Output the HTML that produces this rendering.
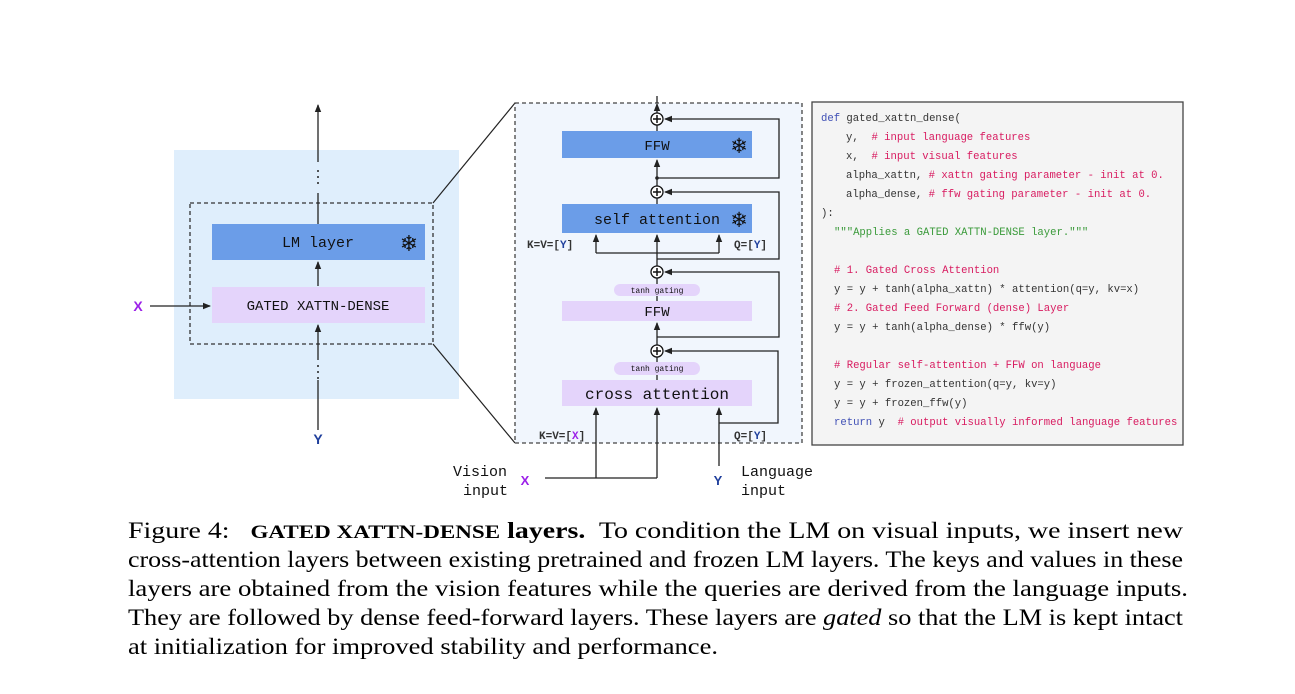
<!DOCTYPE html>
<html><head><meta charset="utf-8"><style>
html,body{margin:0;padding:0;background:#fff;}
svg{display:block;}
.m{font-family:"Liberation Mono","DejaVu Sans Mono",monospace;}
.s{font-family:"Liberation Serif",serif;}
text{white-space:pre;}
</style></head><body>
<svg width="1295" height="694" viewBox="0 0 1295 694" xmlns="http://www.w3.org/2000/svg" xml:space="preserve">
<defs>
<marker id="a" markerWidth="8" markerHeight="8" refX="7" refY="4" orient="auto" markerUnits="userSpaceOnUse">
<path d="M0,0.8 L8,4 L0,7.2 z" fill="#222"/></marker>
</defs>
<rect x="174" y="150" width="285" height="249" fill="#dfeefc"/>
<rect x="190" y="203" width="243" height="141" fill="none" stroke="#333" stroke-width="1.3" stroke-dasharray="4,3"/>
<line x1="318" y1="430" x2="318" y2="380" stroke="#222" stroke-width="1.3"/>
<line x1="318" y1="360" x2="318" y2="325" stroke="#222" stroke-width="1.3" marker-end="url(#a)"/>
<circle cx="318" cy="366" r="1" fill="#222"/><circle cx="318" cy="372" r="1" fill="#222"/><circle cx="318" cy="378" r="1" fill="#222"/>
<line x1="318" y1="286" x2="318" y2="262" stroke="#222" stroke-width="1.3" marker-end="url(#a)"/>
<line x1="318" y1="224" x2="318" y2="193" stroke="#222" stroke-width="1.3"/>
<circle cx="318" cy="171" r="1" fill="#222"/><circle cx="318" cy="177" r="1" fill="#222"/><circle cx="318" cy="183" r="1" fill="#222"/>
<line x1="318" y1="162" x2="318" y2="105" stroke="#222" stroke-width="1.3" marker-end="url(#a)"/>
<rect x="212" y="224" width="213" height="36" fill="#6b9de8"/>
<text x="318" y="247" class="m" font-size="15" text-anchor="middle" fill="#111">LM layer</text>
<text x="409" y="251" font-size="22" text-anchor="middle" fill="#111" font-family="DejaVu Sans">❄</text>
<rect x="212" y="287" width="213" height="36" fill="#e4d4fb"/>
<text x="318" y="310" class="m" font-size="14" text-anchor="middle" fill="#111">GATED XATTN-DENSE</text>
<text x="138" y="311" font-family="Liberation Sans" font-weight="bold" font-size="14" text-anchor="middle" fill="#9b1fe8">X</text>
<line x1="150" y1="306" x2="210" y2="306" stroke="#222" stroke-width="1.3" marker-end="url(#a)"/>
<text x="318" y="444" font-family="Liberation Sans" font-weight="bold" font-size="14" text-anchor="middle" fill="#1f3f9c">Y</text>
<line x1="433" y1="203" x2="515" y2="103" stroke="#222" stroke-width="1.2"/>
<line x1="433" y1="344" x2="515" y2="443" stroke="#222" stroke-width="1.2"/>
<rect x="515" y="103" width="287" height="340" fill="#f1f6fd" stroke="#444" stroke-width="1.3" stroke-dasharray="4,3"/>
<g stroke="#222" stroke-width="1.3" fill="none">
<line x1="657" y1="478" x2="657" y2="408" marker-end="url(#a)"/>
<line x1="657" y1="380" x2="657" y2="375"/>
<line x1="657" y1="362" x2="657" y2="357"/>
<line x1="657" y1="345" x2="657" y2="323" marker-end="url(#a)"/>
<line x1="657" y1="301" x2="657" y2="296"/>
<line x1="657" y1="284" x2="657" y2="278"/>
<line x1="657" y1="266" x2="657" y2="235" marker-end="url(#a)"/>
<line x1="657" y1="204" x2="657" y2="198"/>
<line x1="657" y1="186" x2="657" y2="160" marker-end="url(#a)"/>
<line x1="657" y1="131" x2="657" y2="125"/>
<line x1="657" y1="113" x2="657" y2="104" marker-end="url(#a)"/>
<line x1="657" y1="103" x2="657" y2="96"/>
<polyline points="657,178 779,178 779,119 665,119" marker-end="url(#a)"/>
<polyline points="657,259 779,259 779,192 665,192" marker-end="url(#a)"/>
<polyline points="657,337 779,337 779,272 665,272" marker-end="url(#a)"/>
<polyline points="719,423 778,423 778,351 665,351" marker-end="url(#a)"/>
<polyline points="596,253 596,235" marker-end="url(#a)"/>
<polyline points="719,253 719,235" marker-end="url(#a)"/>
<line x1="596" y1="253" x2="719" y2="253"/>
<line x1="545" y1="478" x2="657" y2="478"/>
<line x1="596" y1="478" x2="596" y2="408" marker-end="url(#a)"/>
<line x1="719" y1="466" x2="719" y2="408" marker-end="url(#a)"/>
</g>
<circle cx="657" cy="178" r="1.8" fill="#222"/>
<g fill="#fff" stroke="#111" stroke-width="1.3">
<circle cx="657" cy="119" r="6"/><circle cx="657" cy="192" r="6"/><circle cx="657" cy="272" r="6"/><circle cx="657" cy="351" r="6"/>
</g>
<g stroke="#111" stroke-width="1.5">
<path d="M653,119h8M657,115v8"/><path d="M653,192h8M657,188v8"/><path d="M653,272h8M657,268v8"/><path d="M653,351h8M657,347v8"/>
</g>
<rect x="562" y="131" width="190" height="27" fill="#6b9de8"/>
<text x="657" y="150" class="m" font-size="14" text-anchor="middle" fill="#111">FFW</text>
<text x="739" y="153" font-size="21" text-anchor="middle" fill="#111" font-family="DejaVu Sans">❄</text>
<rect x="562" y="204" width="190" height="29" fill="#6b9de8"/>
<text x="657" y="224" class="m" font-size="15" text-anchor="middle" fill="#111">self attention</text>
<text x="739" y="227" font-size="21" text-anchor="middle" fill="#111" font-family="DejaVu Sans">❄</text>
<rect x="614" y="284" width="86" height="12" rx="6" fill="#e4d4fb"/>
<text x="657" y="293" class="m" font-size="8" text-anchor="middle" fill="#111">tanh gating</text>
<rect x="562" y="301" width="190" height="20" fill="#e4d4fb"/>
<text x="657" y="316" class="m" font-size="14" text-anchor="middle" fill="#111">FFW</text>
<rect x="614" y="362" width="86" height="13" rx="6.5" fill="#e4d4fb"/>
<text x="657" y="371" class="m" font-size="8" text-anchor="middle" fill="#111">tanh gating</text>
<rect x="562" y="380" width="190" height="26" fill="#e4d4fb"/>
<text x="657" y="399" class="m" font-size="16" text-anchor="middle" fill="#111">cross attention</text>
<g font-family="Liberation Mono,monospace" font-weight="bold" font-size="11" fill="#333">
<text x="527" y="248">K=V=[<tspan fill="#1f3f9c">Y</tspan>]</text>
<text x="734" y="248">Q=[<tspan fill="#1f3f9c">Y</tspan>]</text>
<text x="539" y="439">K=V=[<tspan fill="#9b1fe8">X</tspan>]</text>
<text x="734" y="439">Q=[<tspan fill="#1f3f9c">Y</tspan>]</text>
</g>
<g class="m" font-size="15" fill="#111">
<text x="453" y="476">Vision</text><text x="463" y="495">input</text>
<text x="741" y="476">Language</text><text x="741" y="495">input</text>
</g>
<text x="525" y="485" font-family="Liberation Sans" font-weight="bold" font-size="13" text-anchor="middle" fill="#9b1fe8">X</text>
<text x="718" y="485" font-family="Liberation Sans" font-weight="bold" font-size="13" text-anchor="middle" fill="#1f3f9c">Y</text>
<rect x="812" y="102" width="371" height="343" fill="#f4f4f4" stroke="#444" stroke-width="1.3"/>
<g class="m" font-size="10.6" fill="#333">
<text x="821" y="121"><tspan fill="#3f4fb5">def</tspan> gated_xattn_dense(</text>
<text x="846" y="140">y,  <tspan fill="#d81b60"># input language features</tspan></text>
<text x="846" y="159">x,  <tspan fill="#d81b60"># input visual features</tspan></text>
<text x="846" y="178">alpha_xattn, <tspan fill="#d81b60"># xattn gating parameter - init at 0.</tspan></text>
<text x="846" y="197">alpha_dense, <tspan fill="#d81b60"># ffw gating parameter - init at 0.</tspan></text>
<text x="821" y="216">):</text>
<text x="834" y="235" fill="#3a9a3a">"""Applies a GATED XATTN-DENSE layer."""</text>
<text x="834" y="273" fill="#d81b60"># 1. Gated Cross Attention</text>
<text x="834" y="292">y = y + tanh(alpha_xattn) * attention(q=y, kv=x)</text>
<text x="834" y="311" fill="#d81b60"># 2. Gated Feed Forward (dense) Layer</text>
<text x="834" y="330">y = y + tanh(alpha_dense) * ffw(y)</text>
<text x="834" y="368" fill="#d81b60"># Regular self-attention + FFW on language</text>
<text x="834" y="387">y = y + frozen_attention(q=y, kv=y)</text>
<text x="834" y="406">y = y + frozen_ffw(y)</text>
<text x="834" y="425"><tspan fill="#3f4fb5">return</tspan> y  <tspan fill="#d81b60"># output visually informed language features</tspan></text>
</g>
<g class="s" font-size="23" fill="#000">
<text x="128" y="538" textLength="1055" lengthAdjust="spacingAndGlyphs">Figure 4:   <tspan font-weight="bold" font-size="19">GATED XATTN-DENSE</tspan> <tspan font-weight="bold">layers.</tspan>  To condition the LM on visual inputs, we insert new</text>
<text x="128" y="567" textLength="1055" lengthAdjust="spacingAndGlyphs">cross-attention layers between existing pretrained and frozen LM layers. The keys and values in these</text>
<text x="128" y="596" textLength="1060" lengthAdjust="spacingAndGlyphs">layers are obtained from the vision features while the queries are derived from the language inputs.</text>
<text x="128" y="625" textLength="1055" lengthAdjust="spacingAndGlyphs">They are followed by dense feed-forward layers. These layers are <tspan font-style="italic">gated</tspan> so that the LM is kept intact</text>
<text x="128" y="654" textLength="590" lengthAdjust="spacingAndGlyphs">at initialization for improved stability and performance.</text>
</g>
</svg>
</body></html>
